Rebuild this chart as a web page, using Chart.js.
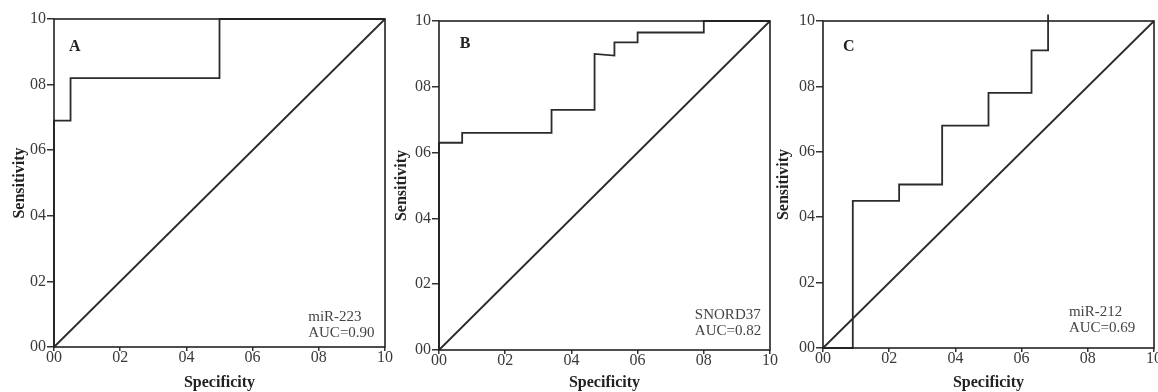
<!DOCTYPE html>
<html>
<head>
<meta charset="utf-8">
<script src="https://cdn.jsdelivr.net/npm/chart.js@4.4.1/dist/chart.umd.min.js"></script>
<style>
  html, body { margin:0; padding:0; background:#fff; }
  body { width:1158px; height:392px; position:relative; overflow:hidden; }
  .panel { position:absolute; top:0; height:392px; }
</style>
</head>
<body>
<div class="panel" style="left:0px;width:400px"><canvas id="rocA" width="400" height="392"></canvas></div>
<div class="panel" style="left:385px;width:400px"><canvas id="rocB" width="400" height="392"></canvas></div>
<div class="panel" style="left:770px;width:388px"><canvas id="rocC" width="388" height="392"></canvas></div>
<script>
// ---- data ----
const tickLabels = ['00', '02', '04', '06', '08', '10'];

const specA = [0, 0, 0.05, 0.05, 0.50, 0.50, 1];
const sensA = [0, 0.69, 0.69, 0.82, 0.82, 1, 1];

const specB = [0, 0, 0.07, 0.07, 0.34, 0.34, 0.47, 0.47, 0.53, 0.53, 0.60, 0.60, 0.80, 0.80, 1];
const sensB = [0, 0.63, 0.63, 0.66, 0.66, 0.73, 0.73, 0.90, 0.895, 0.935, 0.935, 0.965, 0.965, 1, 1];

const specC = [0, 0.09, 0.09, 0.23, 0.23, 0.36, 0.36, 0.50, 0.50, 0.63, 0.63, 0.68, 0.68];
const sensC = [0, 0, 0.45, 0.45, 0.50, 0.50, 0.68, 0.68, 0.78, 0.78, 0.91, 0.91, 1.02];

const diagX = [0, 1];
const diagY = [0, 1];

const SERIF = "'Liberation Serif', 'Times New Roman', serif";
const INK = '#2b2b2b';

// box + panel letter + legend text
const rocDecor = {
  id: 'rocDecor',
  afterDatasetsDraw(chart, args, o) {
    const { ctx, chartArea: a, scales: { x, y } } = chart;
    ctx.save();
    ctx.strokeStyle = '#222';
    ctx.lineWidth = 1.6;
    ctx.strokeRect(a.left, a.top, a.right - a.left, a.bottom - a.top);

    ctx.fillStyle = '#222';
    ctx.font = `bold 16px ${SERIF}`;
    ctx.textAlign = 'center';
    ctx.textBaseline = 'middle';
    ctx.fillText(o.letter, x.getPixelForValue(o.letterAt[0]), y.getPixelForValue(o.letterAt[1]));

    ctx.fillStyle = '#444';
    ctx.font = `15px ${SERIF}`;
    ctx.textAlign = 'left';
    const tx = x.getPixelForValue(o.noteAt[0]);
    const ty = y.getPixelForValue(o.noteAt[1]);
    o.note.forEach((t, i) => ctx.fillText(t, tx, ty + i * 16));
    ctx.restore();
  }
};

function pts(xs, ys) { return xs.map((v, i) => ({ x: v, y: ys[i] })); }

function makePanel(id, spec, sens, cfg) {
  const canvas = document.getElementById(id);
  const W = canvas.width, H = canvas.height;
  new Chart(canvas, {
    type: 'scatter',
    data: {
      datasets: [
        { data: pts(spec, sens), showLine: true, borderColor: INK, borderWidth: 1.8,
          pointRadius: 0, tension: 0, clip: false },
        { data: pts(diagX, diagY), showLine: true, borderColor: INK, borderWidth: 1.8,
          pointRadius: 0, tension: 0, clip: false }
      ]
    },
    options: {
      responsive: false,
      devicePixelRatio: 1,
      animation: false,
      events: [],
      layout: { padding: { top: cfg.top, right: W - cfg.right, left: 0, bottom: 0 } },
      plugins: {
        legend: { display: false },
        tooltip: { enabled: false },
        rocDecor: cfg
      },
      scales: {
        x: {
          type: 'linear', min: 0, max: 1,
          border: { display: false },
          grid: { display: true, drawOnChartArea: false, drawTicks: true, tickLength: 4, color: '#333', lineWidth: 1.5 },
          ticks: { stepSize: 0.2, padding: -3, color: '#3a3a3a', font: { family: SERIF, size: 16 },
                   maxRotation: 0, autoSkip: false, callback: (v, i) => tickLabels[i] },
          title: { display: true, text: 'Specificity', color: '#222',
                   font: { family: SERIF, size: 16, weight: 'bold' }, padding: { top: 0, bottom: 0 } },
          afterFit(s) { s.height = H - cfg.bottom; s.paddingLeft = 0; s.paddingRight = 0; }
        },
        y: {
          type: 'linear', min: 0, max: 1,
          border: { display: false },
          grid: { display: true, drawOnChartArea: false, drawTicks: true, tickLength: 7, color: '#333', lineWidth: 1.5 },
          ticks: { stepSize: 0.2, padding: 1, color: '#3a3a3a', font: { family: SERIF, size: 16 },
                   autoSkip: false, callback: (v, i) => tickLabels[i] },
          title: { display: true, text: 'Sensitivity', color: '#222',
                   font: { family: SERIF, size: 16, weight: 'bold' }, padding: { top: cfg.titlePad, bottom: 0 } },
          afterFit(s) { s.width = cfg.left; s.paddingTop = 0; s.paddingBottom = 0; }
        }
      }
    },
    plugins: [rocDecor]
  });
}

makePanel('rocA', specA, sensA, {
  left: 54, right: 385, top: 19, bottom: 347, titlePad: 10,
  letter: 'A', letterAt: [0.063, 0.915],
  note: ['miR-223', 'AUC=0.90'], noteAt: [0.768, 0.091]
});
makePanel('rocB', specB, sensB, {
  left: 54, right: 385, top: 21, bottom: 350, titlePad: 7,
  letter: 'B', letterAt: [0.079, 0.93],
  note: ['SNORD37', 'AUC=0.82'], noteAt: [0.773, 0.107]
});
makePanel('rocC', specC, sensC, {
  left: 53, right: 384, top: 21, bottom: 348, titlePad: 4,
  letter: 'C', letterAt: [0.078, 0.92],
  note: ['miR-212', 'AUC=0.69'], noteAt: [0.743, 0.111]
});
</script>
</body>
</html>
